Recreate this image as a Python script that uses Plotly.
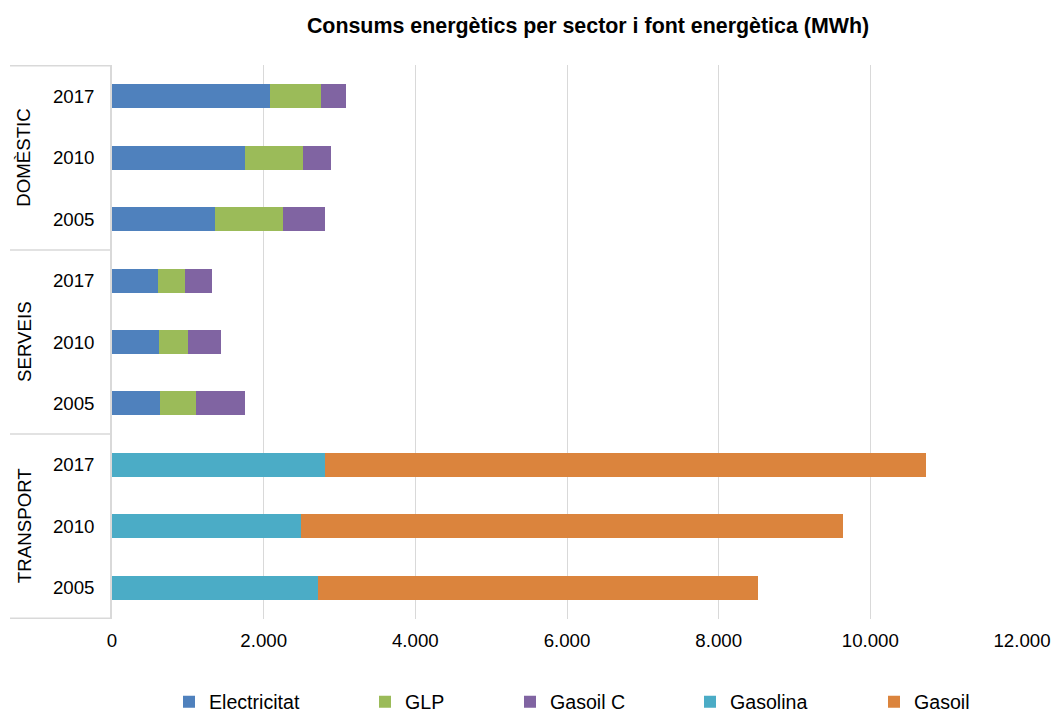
import plotly.graph_objects as go

# ---- data ----
sectors = ["TRANSPORT", "SERVEIS", "DOMÈSTIC"]          # bottom to top
years = ["2005", "2010", "2017"]
series_names = ["Electricitat", "GLP", "Gasoil C", "Gasolina", "Gasoil"]
colors = ["#4F81BD", "#9BBB59", "#8064A2", "#4BACC6", "#DB843D"]

# values per row, rows ordered: TRANSPORT 2005, 2010, 2017, SERVEIS 2005.., DOMÈSTIC 2005..
electricitat = [None, None, None, 628, 614, 600, 1360, 1760, 2080]
glp          = [None, None, None, 475, 391, 357, 900, 760, 680]
gasoil_c     = [None, None, None, 646, 438, 365, 550, 365, 330]
gasolina     = [2711, 2487, 2803, None, None, None, None, None, None]
gasoil       = [5804, 7158, 7933, None, None, None, None, None, None]

x_ticks = [0, 2000, 4000, 6000, 8000, 10000, 12000]
title = "Consums energètics per sector i font energètica (MWh)"

# ---- figure ----
W, H = 1054, 715
ML, MT = 112, 65
PW, PH = 910, 554
MR, MB = W - ML - PW, H - MT - PH

def px_x(p):   # pixel -> paper x
    return (p - ML) / PW

def px_y(p):   # pixel -> paper y
    return 1 - (p - MT) / PH

keys = [f"{s}|{y}" for s in sectors for y in years]
tick_years = [y for s in sectors for y in years]
all_series = [electricitat, glp, gasoil_c, gasolina, gasoil]
legend_ids = ["legend", "legend2", "legend3", "legend4", "legend5"]
legend_text_px = [209, 405, 550, 730, 914]   # where each legend label starts

FONT = "Liberation Sans, Arial, sans-serif"
FS = 18.7
fig = go.Figure()
for name, vals, col, lg in zip(series_names, all_series, colors, legend_ids):
    fig.add_trace(go.Bar(
        y=keys, x=vals, name=name, orientation="h", legend=lg, showlegend=True,
        marker=dict(color=col, line=dict(width=0)),
    ))

grid_col = "#D9D9D9"
legends = {}
for lg, p in zip(legend_ids, legend_text_px):
    legends[lg] = dict(orientation="h", x=px_x(p - 40), xanchor="left",
                       y=px_y(702), yanchor="middle", bgcolor="rgba(0,0,0,0)",
                       font=dict(family=FONT, size=19.6, color="#000000"))

fig.update_layout(
    showlegend=True,
    barmode="stack",
    bargap=0.61,
    width=W, height=H,
    margin=dict(l=ML, r=MR, t=MT, b=MB, autoexpand=False),
    plot_bgcolor="white", paper_bgcolor="white",
    separators=",.",
    font=dict(family=FONT, size=FS, color="#000000"),
    title=dict(text=f"<b>{title}</b>", x=px_x(588), xref="paper", xanchor="center",
               y=1 - 26 / H, yanchor="middle",
               font=dict(family=FONT, size=21.4, color="#000000")),
    xaxis=dict(range=[0, 12000], tickvals=x_ticks, tickformat=",d",
               showgrid=True, gridcolor=grid_col, gridwidth=1,
               zeroline=False, showline=False, ticks="", automargin=False,
               ticklabelstandoff=8,
               tickfont=dict(size=FS, color="#000000"), fixedrange=True),
    yaxis=dict(type="category", categoryorder="array", categoryarray=keys,
               tickvals=keys, ticktext=tick_years, showgrid=False,
               showline=True, linecolor=grid_col, linewidth=1.5,
               ticks="", ticklabelstandoff=12, automargin=False,
               tickfont=dict(size=FS, color="#000000")),
    **legends,
)

# sector dividers and rotated labels
n_years = len(years)
for i in range(len(sectors) + 1):
    yb = i * n_years - 0.5
    fig.add_shape(type="line", xref="paper", yref="y", x0=px_x(10), x1=0, y0=yb, y1=yb,
                  line=dict(color=grid_col, width=1.5))
for i, s in enumerate(sectors):
    fig.add_annotation(text=s, xref="paper", yref="y", x=px_x(24), y=i * n_years + 1,
                       textangle=-90, showarrow=False, xanchor="center", yanchor="middle",
                       font=dict(family=FONT, size=FS, color="#000000"))

fig.write_html("out.html",
               config={"displayModeBar": False},
               post_script="document.body.style.margin='0px';document.body.style.overflow='hidden';")
